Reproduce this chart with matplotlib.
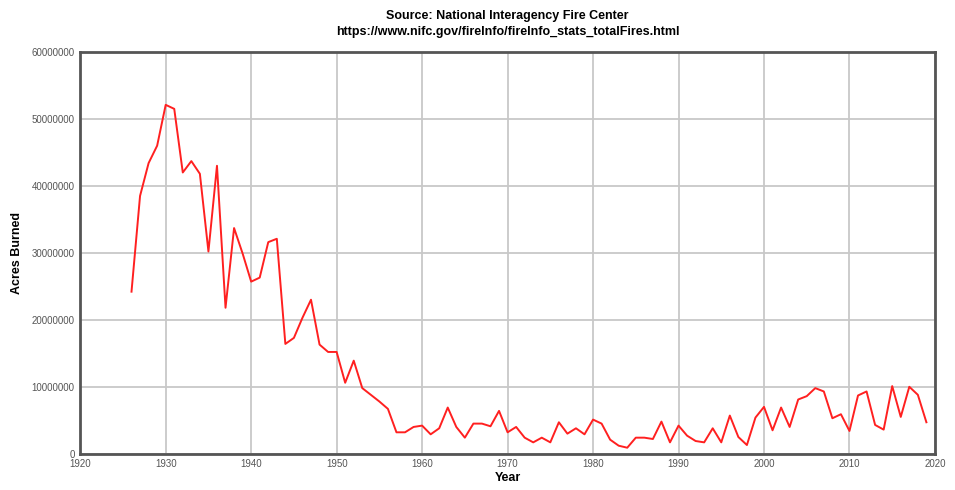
import matplotlib
matplotlib.use("Agg")
import matplotlib.pyplot as plt
from matplotlib.ticker import FuncFormatter

# Acres burned per year
years = list(range(1926, 2020))
acres = [
    24.2, 38.5, 43.4, 46.0, 52.1, 51.5, 42.0, 43.7, 41.8, 30.2,
    43.0, 21.8, 33.7, 29.9, 25.7, 26.3, 31.6, 32.1, 16.4, 17.3,
    20.3, 23.0, 16.3, 15.2, 15.2, 10.6, 13.9, 9.8, 8.8, 7.8,
    6.7, 3.2, 3.2, 4.0, 4.2, 2.9, 3.8, 6.9, 4.0, 2.4,
    4.5, 4.5, 4.1, 6.4, 3.2, 4.0, 2.4, 1.7, 2.4, 1.7,
    4.7, 3.0, 3.8, 2.9, 5.1, 4.5, 2.1, 1.2, 0.9, 2.4,
    2.4, 2.2, 4.8, 1.7, 4.2, 2.7, 1.9, 1.7, 3.8, 1.7,
    5.7, 2.5, 1.3, 5.4, 7.0, 3.5, 6.9, 4.0, 8.1, 8.6,
    9.8, 9.3, 5.3, 5.9, 3.4, 8.7, 9.3, 4.3, 3.6, 10.1,
    5.5, 10.0, 8.8, 4.7,
]
acres = [a * 1e6 for a in acres]

x_ticks = list(range(1920, 2021, 10))
y_ticks = list(range(0, 60000001, 10000000))

plt.rcParams["font.family"] = ["Liberation Sans", "DejaVu Sans"]

fig = plt.figure(figsize=(9.55, 4.9), dpi=100)
ax = fig.add_axes([0.084, 0.074, 0.895, 0.82])

ax.plot(years, acres, color="#ff2020", lw=1.4)

ax.set_xlim(1920, 2020)
ax.set_ylim(0, 60000000)
ax.set_xticks(x_ticks)
ax.set_yticks(y_ticks)
ax.yaxis.set_major_formatter(FuncFormatter(lambda v, p: "%d" % v))
ax.grid(True, color="#c8c8c8", lw=1.3)
ax.set_axisbelow(True)
ax.tick_params(length=0, labelsize=7, colors="#555555", pad=4)

for s in ax.spines.values():
    s.set_color("#555555")
    s.set_linewidth(2)

ax.set_xlabel("Year", fontsize=9, fontweight="bold", labelpad=2)
ax.set_ylabel("Acres Burned", fontsize=9, fontweight="bold", labelpad=6)
ax.set_title("Source: National Interagency Fire Center\n"
             "https://www.nifc.gov/fireInfo/fireInfo_stats_totalFires.html",
             fontsize=9, fontweight="bold", pad=12, linespacing=1.5)

fig.savefig("out.png", dpi=100)
